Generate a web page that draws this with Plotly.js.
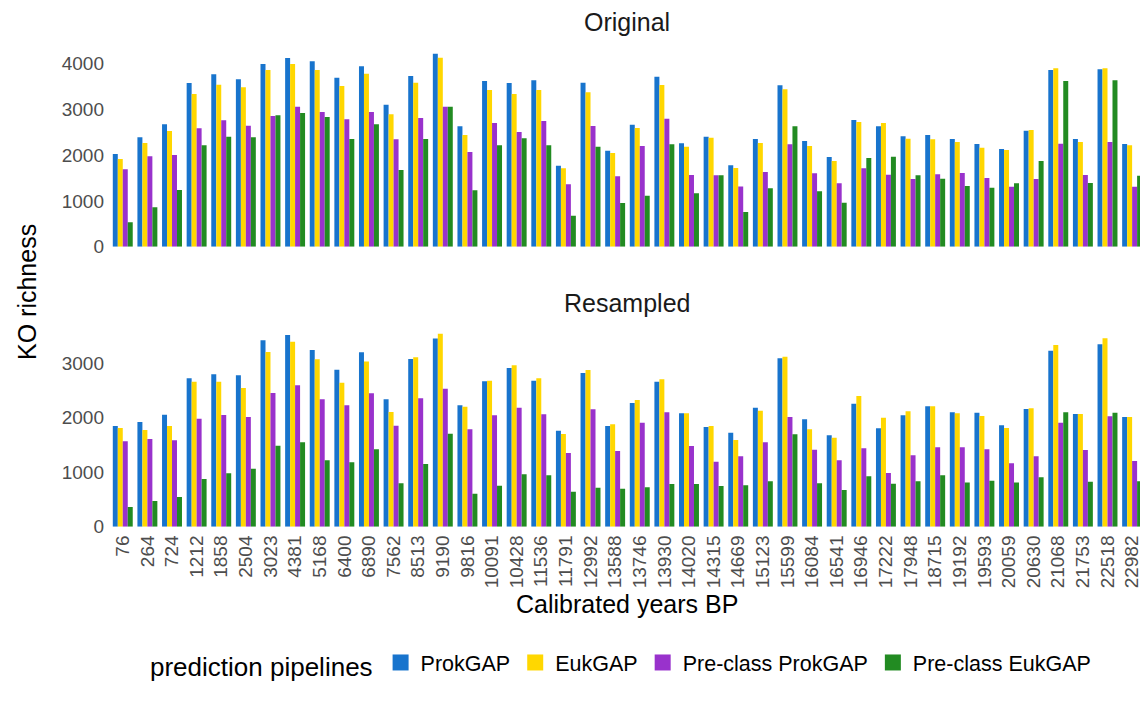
<!DOCTYPE html>
<html>
<head>
<meta charset="utf-8">
<script src="https://cdn.plot.ly/plotly-3.0.1.min.js"></script>
<style>html,body{margin:0;padding:0;background:#fff;}#chart{width:1140px;height:706px;}</style>
</head>
<body>
<div id="chart"></div>
<script>
const years = ["76","264","724","1212","1858","2504","3023","4381","5168","6400","6890","7562","8513","9190","9816","10091","10428","11536","11791","12992","13588","13746","13930","14020","14315","14669","15123","15599","16084","16541","16946","17222","17948","18715","19192","19593","20059","20630","21068","21753","22518","22982"];

const origProkGAP = [2022,2385,2669,3571,3760,3651,3985,4116,4044,3687,3935,3098,3724,4211,2625,3615,3571,3629,1767,3578,2095,2662,3709,2255,2400,1775,2349,3520,2305,1956,2764,2625,2407,2436,2349,2240,2131,2531,3855,2349,3869,2240];
const origEukGAP = [1913,2262,2524,3331,3535,3476,3855,3985,3855,3505,3775,2887,3578,4124,2436,3418,3331,3418,1709,3367,2044,2589,3527,2182,2378,1716,2262,3433,2196,1869,2720,2698,2356,2342,2284,2160,2109,2545,3891,2284,3891,2211];
const origPreProk = [1687,1971,2000,2582,2756,2640,2851,3055,2938,2778,2938,2342,2807,3055,2065,2698,2502,2742,1360,2633,1535,2196,2793,1564,1556,1316,1629,2233,1600,1382,1709,1571,1476,1578,1607,1498,1309,1476,2247,1564,2284,1309];
const origPreEuk = [531,858,1236,2211,2400,2385,2865,2916,2829,2349,2669,1673,2349,3055,1229,2211,2364,2211,676,2182,953,1113,2233,1164,1556,756,1273,2625,1207,960,1935,1964,1556,1484,1324,1287,1382,1869,3615,1389,3629,1549];

const resProkGAP = [1847,1920,2055,2722,2795,2777,3419,3517,3242,2881,3199,2336,3076,3450,2226,2667,2911,2679,1761,2820,1847,2269,2661,2080,1829,1725,2183,3089,1969,1676,2257,1804,2043,2208,2098,2092,1859,2159,3229,2067,3346,2012];
const resEukGAP = [1810,1774,1847,2661,2661,2544,3205,3394,3070,2642,3028,2104,3107,3541,2202,2679,2960,2722,1700,2875,1878,2324,2703,2080,1847,1590,2128,3119,1786,1633,2398,2000,2116,2208,2080,2031,1810,2171,3333,2067,3456,2012];
const resPreProk = [1566,1609,1584,1982,2049,2012,2453,2593,2336,2226,2446,1853,2355,2532,1786,2043,2183,2061,1352,2153,1388,1908,2098,1480,1193,1291,1547,2012,1413,1217,1437,985,1309,1456,1456,1419,1162,1291,1908,1407,2024,1205];
const resPreEuk = [361,471,544,875,979,1064,1486,1547,1217,1180,1419,795,1150,1706,606,752,960,942,642,716,697,722,783,783,746,758,832,1694,795,673,924,789,832,942,813,844,813,905,2098,826,2092,832];

const seriesNames = ["ProkGAP","EukGAP","Pre-class ProkGAP","Pre-class EukGAP"];
const seriesColors = ["#1874CD","#FFD700","#9932CC","#228B22"];
const panelTitles = ["Original","Resampled"];
const topTicks = [0,1000,2000,3000,4000];
const bottomTicks = [0,1000,2000,3000];

const FONT = "Liberation Sans, Arial, Helvetica, sans-serif";
const W = 1140, H = 706;
const px = x => x / W;
const py = y => 1 - y / H;

const topData = [origProkGAP, origEukGAP, origPreProk, origPreEuk];
const botData = [resProkGAP, resEukGAP, resPreProk, resPreEuk];

const traces = [];
topData.forEach((vals, i) => {
  traces.push({type:"bar", x:years, y:vals, name:seriesNames[i], legendgroup:seriesNames[i],
    marker:{color:seriesColors[i], line:{width:0}}, xaxis:"x", yaxis:"y", showlegend:false, hoverinfo:"x+y+name"});
});
botData.forEach((vals, i) => {
  traces.push({type:"bar", x:years, y:vals, name:seriesNames[i], legendgroup:seriesNames[i],
    marker:{color:seriesColors[i], line:{width:0}}, xaxis:"x2", yaxis:"y2", showlegend:false, hoverinfo:"x+y+name"});
});
// legend keys (larger square swatches like the reference)
seriesNames.forEach((n, i) => {
  traces.push({type:"scatter", mode:"markers", x:[null], y:[null], name:n, legendgroup:n,
    marker:{symbol:"square", size:16, color:seriesColors[i]}, xaxis:"x", yaxis:"y", showlegend:true, hoverinfo:"skip"});
});

const xRange = [-0.6, 41.32];
const commonX = {type:"category", range:xRange, domain:[px(108), 1], showgrid:false, zeroline:false,
  showline:false, ticks:"", fixedrange:true, categoryorder:"array", categoryarray:years};
const commonY = {showgrid:false, zeroline:false, showline:false, ticks:"",
  tickfont:{family:FONT, size:19, color:"#4D4D4D"}, ticklabelstandoff:3};

const layout = {
  width:W, height:H,
  margin:{l:0, r:0, t:0, b:0, autoexpand:false},
  paper_bgcolor:"#fff", plot_bgcolor:"#fff",
  barmode:"group", bargap:0.19, bargroupgap:0,
  font:{family:FONT, color:"#000"},
  xaxis: Object.assign({}, commonX, {anchor:"y", showticklabels:false}),
  yaxis: Object.assign({}, commonY, {anchor:"x", domain:[py(246.7), py(44)], range:[0,4422], tickvals:topTicks, ticktext:topTicks.map(String)}),
  xaxis2: Object.assign({}, commonX, {anchor:"y2", showticklabels:true, tickangle:-90,
    tickfont:{family:FONT, size:19, color:"#4D4D4D"}, ticklabelstandoff:4}),
  yaxis2: Object.assign({}, commonY, {anchor:"x2", domain:[py(526.7), py(324)], range:[0,3718], tickvals:bottomTicks, ticktext:bottomTicks.map(String)}),
  showlegend:true,
  legend:{orientation:"h", x:px(148), y:py(664), xanchor:"left", yanchor:"middle",
    font:{family:FONT, size:21.5, color:"#000"}, itemwidth:30,
    title:{text:"prediction pipelines", side:"left", font:{family:FONT, size:26, color:"#000"}},
    itemclick:false, itemdoubleclick:false, traceorder:"normal"},
  annotations:[
    {text:panelTitles[0], xref:"paper", yref:"paper", x:px(627), y:py(22), showarrow:false, xanchor:"center", yanchor:"middle", font:{family:FONT, size:25, color:"#1A1A1A"}},
    {text:panelTitles[1], xref:"paper", yref:"paper", x:px(627), y:py(303), showarrow:false, xanchor:"center", yanchor:"middle", font:{family:FONT, size:25, color:"#1A1A1A"}},
    {text:"Calibrated years BP", xref:"paper", yref:"paper", x:px(627), y:py(604), showarrow:false, xanchor:"center", yanchor:"middle", font:{family:FONT, size:25, color:"#000"}},
    {text:"KO richness", xref:"paper", yref:"paper", x:px(27), y:py(292), showarrow:false, xanchor:"center", yanchor:"middle", textangle:-90, font:{family:FONT, size:25, color:"#000"}}
  ]
};

Plotly.newPlot("chart", traces, layout, {displayModeBar:false, staticPlot:true});
</script>
</body>
</html>
